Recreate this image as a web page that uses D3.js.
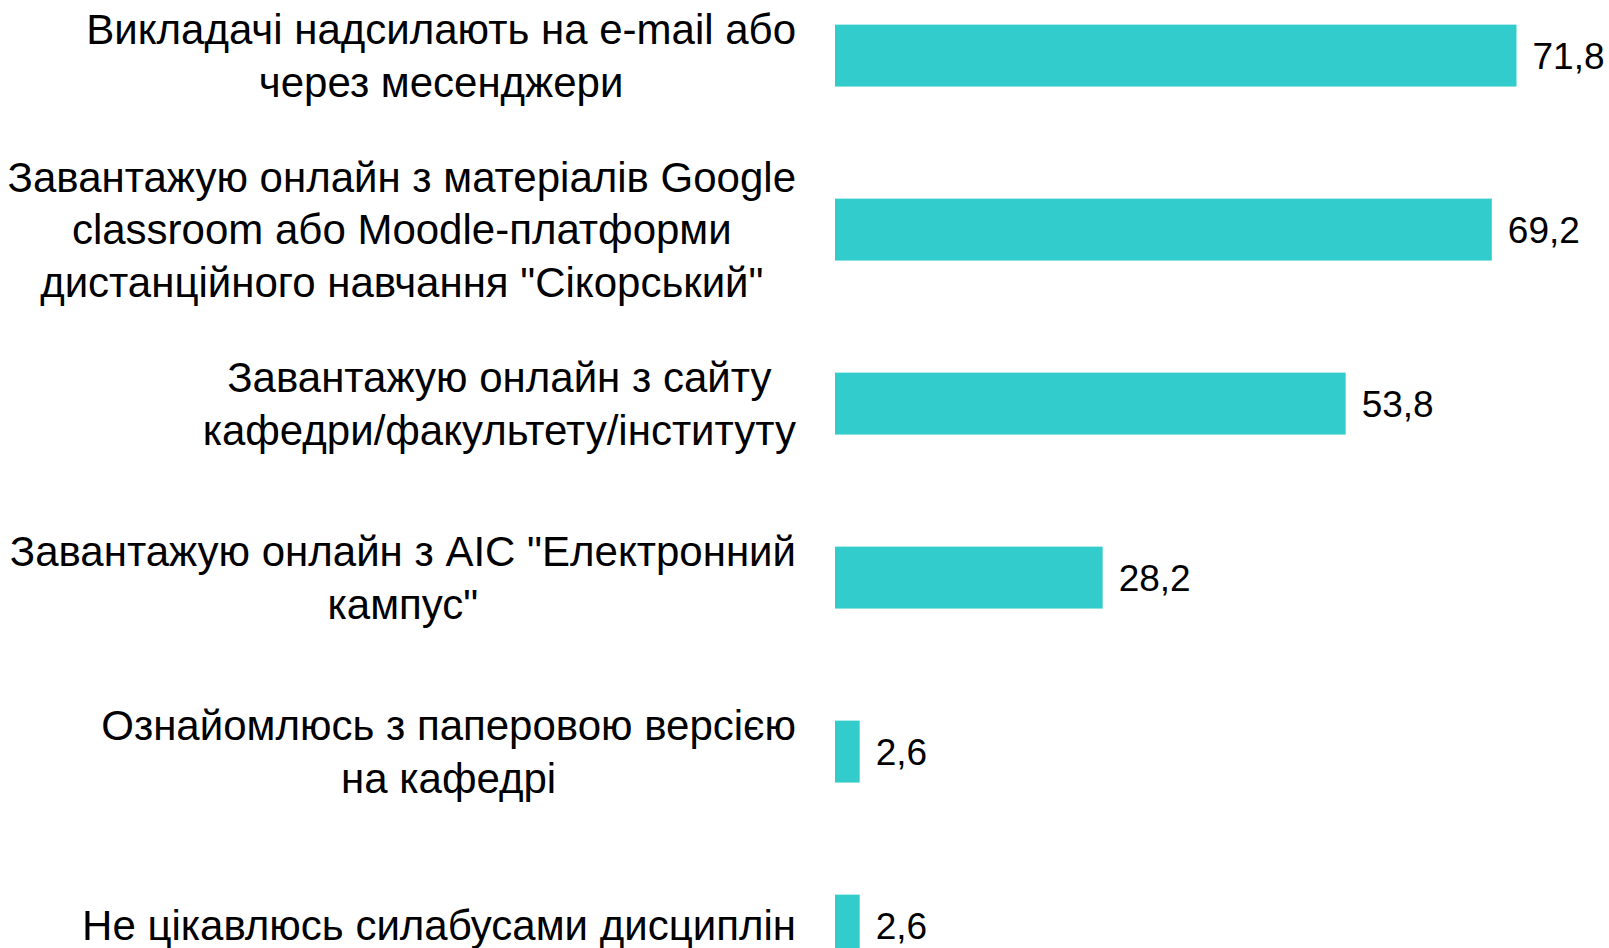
<!DOCTYPE html>
<html>
<head>
<meta charset="utf-8">
<script src="https://cdn.jsdelivr.net/npm/d3@7"></script>
<style>
  body { margin: 0; background: #fff; }
  text { font-family: "Liberation Sans", Arial, sans-serif; fill: #000; }
</style>
</head>
<body>
<script>
//categories, one string per line of the label
var categories = [
    ["Викладачі надсилають на e-mail або", "через месенджери"],
    ["Завантажую онлайн з матеріалів Google", "classroom або Moodle-платформи", "дистанційного навчання \"Сікорський\""],
    ["Завантажую онлайн з сайту", "кафедри/факультету/інституту"],
    ["Завантажую онлайн з АІС \"Електронний", "кампус\""],
    ["Ознайомлюсь з паперовою версією", "на кафедрі"],
    ["Не цікавлюсь силабусами дисциплін"]
];
var values = [71.8, 69.2, 53.8, 28.2, 2.6, 2.6];

var width = 1609,
    height = 948;

var svg = d3.select("body")
    .append("svg")
    .attr("width", width)
    .attr("height", height);

//x scale: zero at 835, about 9.49 px per unit
var x = d3.scaleLinear()
    .domain([0, 71.8])
    .range([835, 1516.5]);

//band scale, step 174 with bars about 62 px high
var y = d3.scaleBand()
    .domain(d3.range(categories.length))
    .range([-31.4, -31.4 + 174 * categories.length])
    .paddingInner(0.644)
    .paddingOuter(0.322);

var labelSize = 42,
    valueSize = 37,
    lineH = 52.5,
    labelRight = 796;

svg.selectAll(".bar")
    .data(values)
    .enter()
    .append("rect")
    .attr("class", "bar")
    .attr("x", x(0))
    .attr("y", function(d, i){ return y(i); })
    .attr("width", function(d){ return x(d) - x(0); })
    .attr("height", y.bandwidth())
    .attr("fill", "#33cccc");

var fmt = d3.format(".1f");
svg.selectAll(".val")
    .data(values)
    .enter()
    .append("text")
    .attr("class", "val")
    .attr("x", function(d){ return x(d) + 16; })
    .attr("y", function(d, i){ return y(i) + y.bandwidth() / 2; })
    .attr("dy", "0.35em")
    .style("font-size", valueSize + "px")
    .text(function(d){ return fmt(d).replace(".", ","); });

//category labels: centred lines, widest line ends at labelRight
var labels = svg.selectAll(".label")
    .data(categories)
    .enter()
    .append("text")
    .attr("class", "label")
    .attr("text-anchor", "middle")
    .style("font-size", labelSize + "px");

labels.each(function(lines, i){
    var g = d3.select(this);
    var cy = y(i) + y.bandwidth() / 2;
    var top = cy - (lines.length - 1) * lineH / 2;
    lines.forEach(function(line, j){
        g.append("tspan")
            .attr("y", top + j * lineH)
            .attr("dy", "0.35em")
            .text(line);
    });
    var maxW = 0;
    g.selectAll("tspan").each(function(){
        maxW = Math.max(maxW, this.getComputedTextLength());
    });
    g.selectAll("tspan").attr("x", labelRight - maxW / 2);
});
</script>
</body>
</html>
